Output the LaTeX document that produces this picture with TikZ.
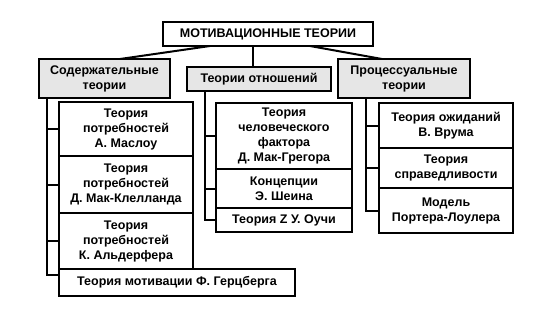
\documentclass[tikz,border=0pt]{standalone}
\usepackage{fontspec}
\setmainfont{Liberation Sans}
\usetikzlibrary{positioning}
\definecolor{Paper}{HTML}{FFFFFF}
\definecolor{HeadGrey}{HTML}{E6E6E6}
\definecolor{Ink}{HTML}{000000}

\begin{document}
\begin{tikzpicture}[x=1pt,y=-1pt,line width=2pt,every node/.style={font=\bfseries\fontsize{12.5}{15}\selectfont,text=Ink,align=center,inner sep=0pt,outer sep=0pt},
theorybox/.style={draw=Ink,fill=Paper,minimum width=#1},headbox/.style={draw=Ink,fill=HeadGrey,minimum width=#1}]
\fill[Paper] (0,0) rectangle (556,319); \useasboundingbox (0,0) rectangle (556,319);
% title and the three groups
\node[theorybox=210pt,minimum height=24pt] (top) at (268,34){МОТИВАЦИОННЫЕ ТЕОРИИ};
\node[headbox=131pt,minimum height=39pt] (lhead) at (104.5,78.5){Содержательные\\теории};
\node[headbox=144pt,minimum height=24pt] (mhead) at (259,79){Теории отношений};
\node[headbox=132pt,minimum height=39pt] (rhead) at (404,78.5){Процессуальные\\теории};
\draw[Ink] ([xshift=-58pt]top.south)--([xshift=15.5pt]lhead.north); \draw[Ink] ([xshift=-15pt]top.south)--([xshift=-6pt]mhead.north); \draw[Ink] ([xshift=42pt]top.south)--([xshift=-22pt]rhead.north);
% content theories
\node[theorybox=134pt,minimum height=54pt] (l1) at (126,129){Теория\\потребностей\\А. Маслоу};
\node[theorybox=134pt,minimum height=57pt,below=0pt of l1] (l2){Теория\\потребностей\\Д. Мак-Клелланда};
\node[theorybox=134pt,minimum height=56pt,below=0pt of l2] (l3){Теория\\потребностей\\К. Альдерфера};
\node[theorybox=236pt,minimum height=27pt,below right=0pt and 0pt of l3.south west] (l4){Теория мотивации Ф. Герцберга};
\coordinate (lspine) at ([xshift=8pt]lhead.south west);
\draw[Ink] (lspine) |- ([yshift=7.5pt]l4.west); \foreach \b in {l1,l2,l3} \draw[Ink] (lspine |- \b.west)--(\b.west);
% relation theories
\node[theorybox=136pt,minimum height=66pt] (m1) at (284,136){Теория\\человеческого\\фактора\\Д. Мак-Грегора};
\node[theorybox=136pt,minimum height=39pt,below=0pt of m1] (m2){Концепции\\Э. Шеина};
\node[theorybox=136pt,minimum height=24pt,below=0pt of m2] (m3){Теория Z У. Оучи};
\coordinate (mspine) at ([xshift=18pt]mhead.south west);
\draw[Ink] (mspine) |- (m3.west); \foreach \b in {m1,m2} \draw[Ink] (mspine |- \b.west)--(\b.west);
% process theories
\node[theorybox=134pt,minimum height=45pt] (r1) at (446,125.5){Теория ожиданий\\В. Врума};
\node[theorybox=134pt,minimum height=40pt,below=0pt of r1] (r2){Теория\\справедливости};
\node[theorybox=134pt,minimum height=45pt,below=0pt of r2] (r3){Модель\\Портера-Лоулера};
\coordinate (rspine) at ([xshift=28pt]rhead.south west);
\draw[Ink] (rspine) |- (r3.west); \foreach \b in {r1,r2} \draw[Ink] (rspine |- \b.west)--(\b.west);
\end{tikzpicture}
\end{document}
